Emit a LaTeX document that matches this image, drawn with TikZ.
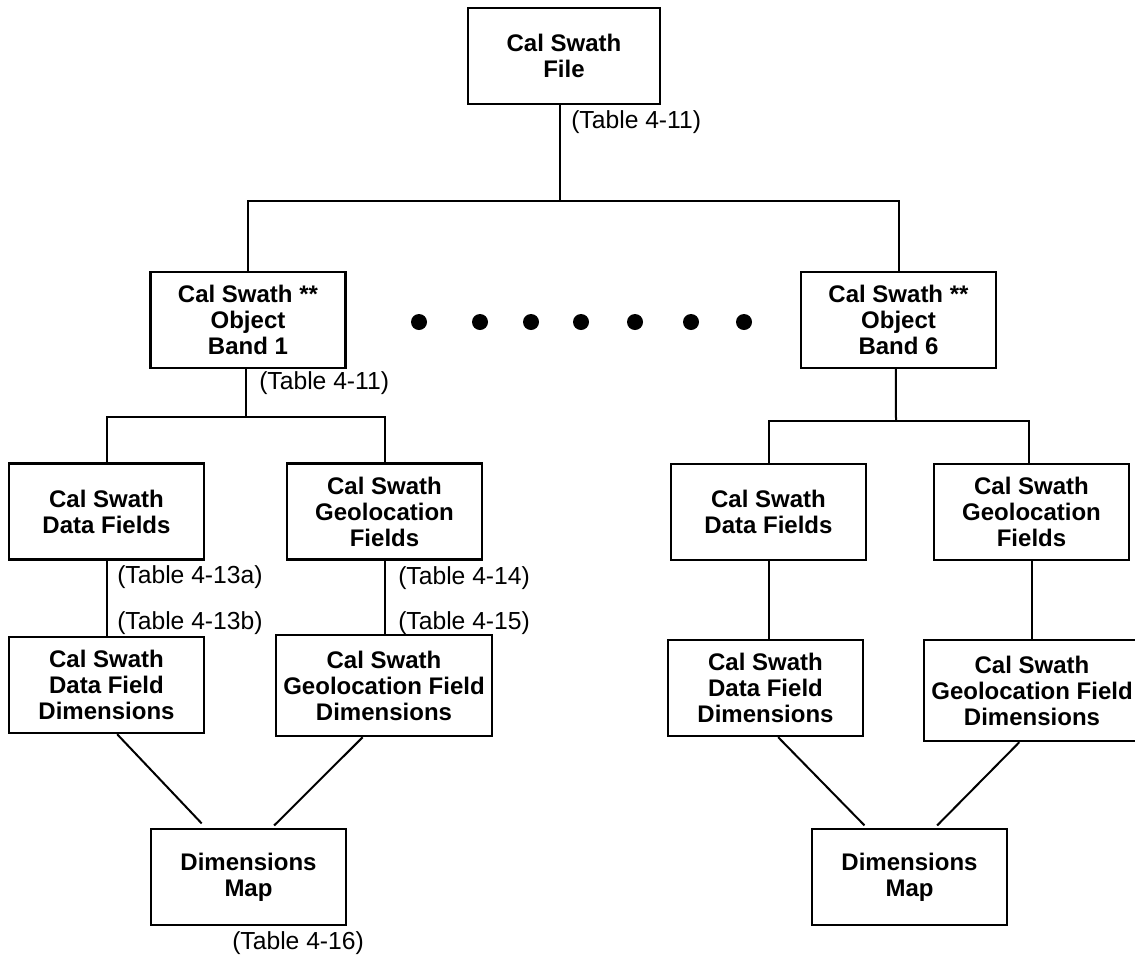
\documentclass[tikz,border=0pt]{standalone}
\usepackage{fontspec}
\setmainfont{Liberation Sans}
\begin{document}
\begin{tikzpicture}[x=0.75pt,y=-0.75pt,line cap=butt,line join=miter,font=\fontsize{18.5}{20}\selectfont]
	\tikzset{box/.style={draw,line width=1.8pt,align=center,inner sep=2pt,
			minimum width=146pt,minimum height=72pt,font=\fontsize{18}{19.5}\selectfont\bfseries},
		wide/.style={minimum width=162pt,minimum height=75.75pt},
		tbl/.style={inner sep=0pt,anchor=west},
		link/.style={line width=1.5pt}}
	\useasboundingbox (0,0) rectangle (1135,958);
	% cac hop
	\node[box,minimum width=144pt] (file) at (564,56) {Cal Swath\\File};
	\node[box] (band1) at (248,320) {Cal Swath **\\Object\\Band 1};
	\node[box] (band6) at (898.5,320) {Cal Swath **\\Object\\Band 6};
	\node[box] (dfl) at (106.5,511.5) {Cal Swath\\Data Fields};
	\node[box] (gfl) at (384.5,511.5) {Cal Swath\\Geolocation\\Fields};
	\node[box] (dfr) at (768.5,512) {Cal Swath\\Data Fields};
	\node[box] (gfr) at (1031.5,512) {Cal Swath\\Geolocation\\Fields};
	\node[box] (ddl) at (106.5,685) {Cal Swath\\Data Field\\Dimensions};
	\node[box,wide] (gdl) at (384,685.5) {Cal Swath\\Geolocation Field\\Dimensions};
	\node[box] (ddr) at (765.5,688) {Cal Swath\\Data Field\\Dimensions};
	\node[box,wide] (gdr) at (1032,690.5) {Cal Swath\\Geolocation Field\\Dimensions};
	\node[box] (mapl) at (248.5,877) {Dimensions\\Map};
	\node[box] (mapr) at (909.5,877) {Dimensions\\Map};
	% cac nhanh
	\coordinate (j0) at (560,201);
	\coordinate (j1) at (246,417);
	\coordinate (j2) at (896,421);
	\draw[link] ([xshift=-3pt]file.south) -- (j0);
	\draw[link] (band1.north) |- (j0) -| (band6.north);
	\draw[link] ([xshift=-1.5pt]band1.south) -- (j1);
	\draw[link] (dfl.north) |- (j1) -| (gfl.north);
	\draw[link] ([xshift=-2pt]band6.south) -- (j2);
	\draw[link] (dfr.north) |- (j2) -| ([xshift=-2pt]gfr.north);
	\draw[link] (dfl.south) -- (ddl.north);
	\draw[link] (gfl.south) -- (gfl.south |- gdl.north);
	\draw[link] (dfr.south) -- (dfr.south |- ddr.north);
	\draw[link] (gfr.south) -- (gfr.south |- gdr.north);
	\draw[link,shorten >=4.5pt] ([xshift=8pt]ddl.south) -- ([xshift=-32pt]mapl.north);
	\draw[link,shorten >=2.5pt] ([xshift=-16pt]gdl.south) -- ([xshift=17.5pt]mapl.north);
	\draw[link,shorten >=2.5pt] ([xshift=9.5pt]ddr.south) -- ([xshift=-32pt]mapr.north);
	\draw[link,shorten >=2.5pt] ([xshift=-9.5pt]gdr.south) -- ([xshift=19pt]mapr.north);
	% nhan bang
	\node[tbl] (t1) at (571,122) {(Table 4-11)};
	\node[tbl] (t2) at (259,383) {(Table 4-11)};
	\node[tbl] (t3) at (117,577) {(Table 4-13a)};
	\node[tbl] (t4) at (117,623) {(Table 4-13b)};
	\node[tbl] (t5) at (398,578) {(Table 4-14)};
	\node[tbl] (t6) at (398,623) {(Table 4-15)};
	\node[tbl] (t7) at (232,943) {(Table 4-16)};
	% cac cham
	\foreach\x in {419,480,531,581,635,691,744}{\fill (\x,322) circle (6pt);}
\end{tikzpicture}
\end{document}
